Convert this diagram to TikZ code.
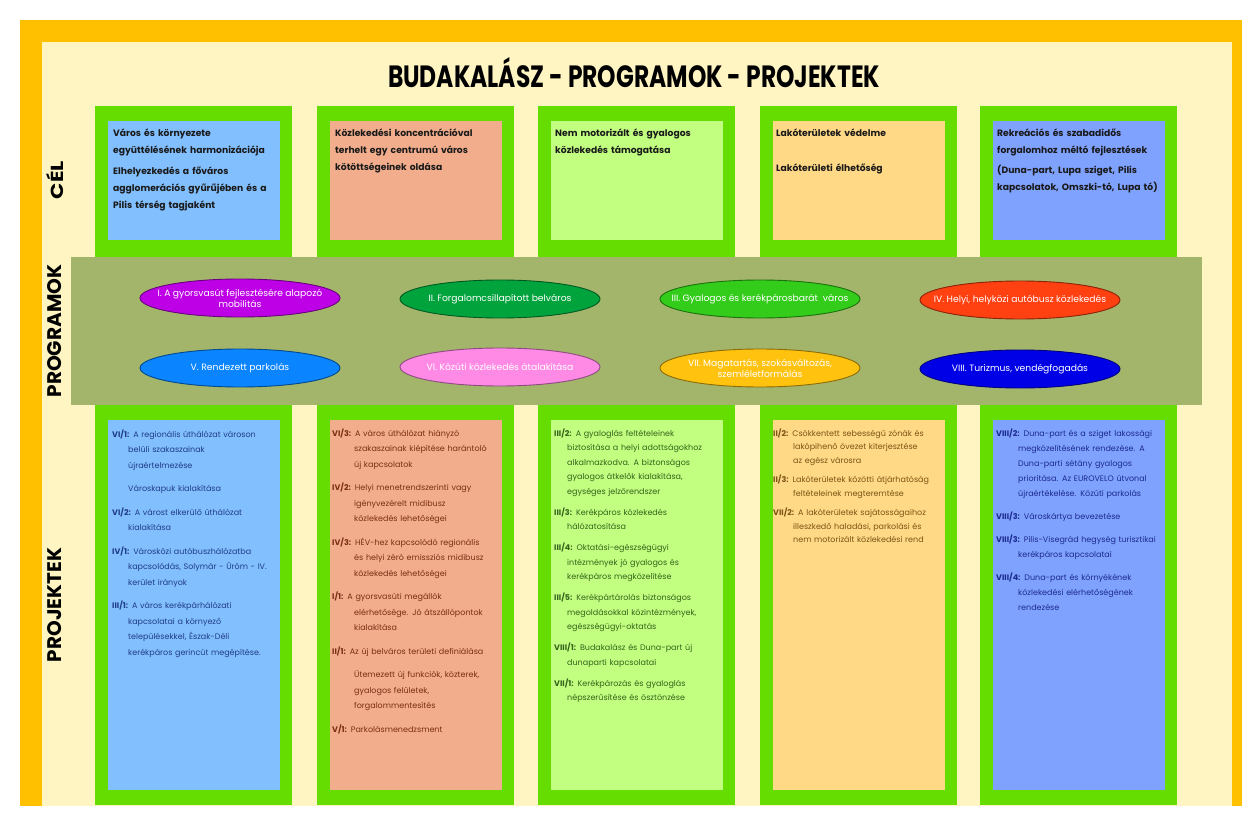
\documentclass[tikz,border=0pt]{standalone}
\usepackage{fontspec}
\setmainfont{Poppins}
\usetikzlibrary{shapes.geometric}
\definecolor{orng}{HTML}{FFC000}
\definecolor{ltyel}{HTML}{FFF5C2}
\definecolor{grn}{HTML}{66DD00}
\definecolor{bandc}{HTML}{A3B56B}
\definecolor{cA}{HTML}{82BFFF}
\definecolor{cB}{HTML}{F2AE8C}
\definecolor{cC}{HTML}{C2FF80}
\definecolor{cD}{HTML}{FFD986}
\definecolor{cE}{HTML}{80A2FF}
\definecolor{tA}{HTML}{1F3C88}
\definecolor{tB}{HTML}{7A2E14}
\definecolor{tC}{HTML}{35621A}
\definecolor{tD}{HTML}{7A5514}
\definecolor{tE}{HTML}{1B2A8F}
\definecolor{pI}{HTML}{BE00E6}
\definecolor{pII}{HTML}{00A33C}
\definecolor{pIII}{HTML}{33CC1A}
\definecolor{pIV}{HTML}{FF4011}
\definecolor{pV}{HTML}{0A84FF}
\definecolor{pVI}{HTML}{FF8AE6}
\definecolor{pVII}{HTML}{FFC20E}
\definecolor{pVIII}{HTML}{0000E6}
\newlength\pjind
\newcommand\nl{\hfil\break}
\newcommand\pjitem[2]{\hangindent=\pjind\hangafter=1\textbf{#1} #2\par}
\newcommand\pjcont[1]{\hangindent=\pjind\hangafter=0 #1\par}
\tikzset{
  gbox/.style={fill=grn, draw=none, inner sep=0pt, minimum width=197pt, anchor=north west},
  ibox/.style={fill=#1, draw=none, inner sep=0pt, minimum width=172pt, anchor=north west},
  prog/.style={ellipse, draw=#1!55!black, line width=0.9pt, fill=#1, minimum width=200pt,
    minimum height=38pt, inner sep=0pt},
  progtxt/.style={inner sep=0pt, text=white, font=\fontsize{9.2}{11}\selectfont, align=center},
  celtext/.style={anchor=base west, inner sep=0pt, text width=172pt, align=left,
    text=black!90, font=\bfseries\fontsize{9.2}{17}\selectfont},
  projtext/.style={anchor=base west, inner sep=0pt, text width=180pt, align=left,
    text=#1, font=\fontsize{8}{15.5}\selectfont},
  rowlab/.style={rotate=90, inner sep=0pt, font=\bfseries, text=black}
}
\begin{document}
\begin{tikzpicture}[x=1pt,y=-1pt]
\useasboundingbox (0,0) rectangle (1242,834);
\fill[white] (0,0) rectangle (1242,834);
\fill[orng] (20,20) rectangle (1242,806);
\fill[ltyel] (42,42) rectangle (1232,806);

\node[anchor=base, inner sep=0pt] (title) at (634,88)
  {\resizebox{492pt}{30pt}{\bfseries BUDAKALÁSZ - PROGRAMOK - PROJEKTEK}};

\node[rowlab] (lcel) at (55,180) {\resizebox{38pt}{17pt}{CÉL}};
\node[rowlab] (lprog) at (55,331) {\resizebox{133pt}{14pt}{PROGRAMOK}};
\node[rowlab] (lproj) at (55,605) {\resizebox{114pt}{14pt}{PROJEKTEK}};

% green frames
\foreach \x/\n in {95/1,317/2,538/3,760/4,980/5}{
  \node[gbox, minimum height=151pt] (gt\n) at (\x,106) {};
  \node[gbox, minimum height=400pt] (gb\n) at (\x,405) {};
}
% programme band
\fill[bandc] (71,257) rectangle (1202,405);

% inner boxes
\foreach \x/\n/\c in {95/1/cA,317/2/cB,538/3/cC,760/4/cD,980/5/cE}{
  \node[ibox=\c, minimum height=119pt] (it\n) at (\x+13,121) {};
  \node[ibox=\c, minimum height=370pt] (ib\n) at (\x+13,420) {};
}

% CEL texts
\node[celtext] (c1) at (113,137) {\setlength\parskip{4pt}Város és környezete\nl együttélésének harmonizációja\par Elhelyezkedés a főváros\nl agglomerációs gyűrűjében és a\nl Pilis térség tagjaként};
\node[celtext] (c2) at (335,137) {Közlekedési koncentrációval\nl terhelt egy centrumú város\nl kötöttségeinek oldása};
\node[celtext] (c3) at (555,137) {Nem motorizált és gyalogos\nl közlekedés támogatása};
\node[celtext] (c4) at (776,137) {\setlength\parskip{18pt}Lakóterületek védelme\par Lakóterületi élhetőség};
\node[celtext] (c5) at (997,137) {\setlength\parskip{3pt}Rekreációs és szabadidős\nl forgalomhoz méltó fejlesztések\par (Duna-part, Lupa sziget, Pilis\nl kapcsolatok, Omszki-tó, Lupa tó)};

% programmes
\node[prog=pI] (p1) at (240,298) {};
\node[prog=pII] (p2) at (500,299) {};
\node[prog=pIII] (p3) at (760,299) {};
\node[prog=pIV] (p4) at (1020,300) {};
\node[prog=pV] (p5) at (240,368) {};
\node[prog=pVI] (p6) at (500,367) {};
\node[prog=pVII] (p7) at (760,368) {};
\node[prog=pVIII] (p8) at (1020,369) {};
\node[progtxt] (p1t) at (p1.center) {I. A gyorsvasút fejlesztésére alapozó\\ mobilitás};
\node[progtxt] (p2t) at (p2.center) {II. Forgalomcsillapított belváros};
\node[progtxt] (p3t) at (p3.center) {III. Gyalogos és kerékpárosbarát\ \ város};
\node[progtxt] (p4t) at (p4.center) {IV. Helyi, helyközi autóbusz közlekedés};
\node[progtxt] (p5t) at (p5.center) {V. Rendezett parkolás};
\node[progtxt] (p6t) at (p6.center) {VI. Közúti közlekedés átalakítása};
\node[progtxt] (p7t) at (p7.center) {VII. Magatartás, szokásváltozás,\\ szemléletformálás};
\node[progtxt] (p8t) at (p8.center) {VIII. Turizmus, vendégfogadás};

% projects
\node[projtext=tA] (j1) at (112,437) {\setlength\pjind{16pt}\setlength\parskip{8pt}%
\pjitem{VI/1:}{A regionális úthálózat városon\nl belüli szakaszainak\nl újraértelmezése}%
\pjcont{Városkapuk kialakítása}%
\pjitem{VI/2:}{A várost elkerülő úthálózat\nl kialakítása}%
\pjitem{IV/1:}{Városközi autóbuszhálózatba\nl kapcsolódás, Solymár - Üröm - IV.\nl kerület irányok}%
\pjitem{III/1:}{A város kerékpárhálózati\nl kapcsolatai a környező\nl településekkel, Észak-Déli\nl kerékpáros gerincút megépítése.}};

\node[projtext=tB] (j2) at (332,436) {\setlength\pjind{22pt}\setlength\parskip{8pt}%
\pjitem{VI/3:}{A város úthálózat hiányzó\nl szakaszainak kiépítése harántoló\nl új kapcsolatok}%
\pjitem{IV/2:}{Helyi menetrendszerinti vagy\nl igényvezérelt midibusz\nl közlekedés lehetőségei}%
\pjitem{IV/3:}{HÉV-hez kapcsolódó regionális\nl és helyi zéró emissziós midibusz\nl közlekedés lehetőségei}%
\pjitem{I/1:}{A gyorsvasúti megállók\nl elérhetősége. Jó átszállópontok\nl kialakítása}%
\pjitem{II/1:}{Az új belváros területi definiálása}%
\pjcont{Ütemezett új funkciók, közterek,\nl gyalogos felületek,\nl forgalommentesítés}%
\pjitem{V/1:}{Parkolásmenedzsment}};

\node[projtext=tC] (j3) at (554,436) {\setlength\pjind{13pt}\setlength\parskip{6.5pt}\fontsize{8}{14.5}\selectfont
\pjitem{III/2:}{A gyaloglás feltételeinek\nl biztosítása a helyi adottságokhoz\nl alkalmazkodva. A biztonságos\nl gyalogos átkelők kialakítása,\nl egységes jelzőrendszer}%
\pjitem{III/3:}{Kerékpáros közlekedés\nl hálózatosítása}%
\pjitem{III/4:}{Oktatási-egészségügyi\nl intézmények jó gyalogos és\nl kerékpáros megközelítése}%
\pjitem{III/5:}{Kerékpártárolás biztonságos\nl megoldásokkal közintézmények,\nl egészségügyi-oktatás}%
\pjitem{VIII/1:}{Budakalász és Duna-part új\nl dunaparti kapcsolatai}%
\pjitem{VII/1:}{Kerékpározás és gyaloglás\nl népszerűsítése és ösztönzése}};

\node[projtext=tD] (j4) at (773,436) {\setlength\pjind{20pt}\setlength\parskip{6pt}\fontsize{8}{13.5}\selectfont
\pjitem{II/2:}{Csökkentett sebességű zónák és\nl lakópihenő övezet kiterjesztése\nl az egész városra}%
\pjitem{II/3:}{Lakóterületek közötti átjárhatóság\nl feltételeinek megteremtése}%
\pjitem{VII/2:}{A lakóterületek sajátosságaihoz\nl illeszkedő haladási, parkolási és\nl nem motorizált közlekedési rend}};

\node[projtext=tE] (j5) at (996,436) {\setlength\pjind{22pt}\setlength\parskip{8pt}\fontsize{8}{15}\selectfont
\pjitem{VIII/2:}{Duna-part és a sziget lakossági\nl megközelítésének rendezése. A\nl Duna-parti sétány gyalogos\nl prioritása. Az EUROVELO útvonal\nl újraértékelése. Közúti parkolás}%
\pjitem{VIII/3:}{Városkártya bevezetése}%
\pjitem{VIII/3:}{Pilis-Visegrád hegység turisztikai\nl kerékpáros kapcsolatai}%
\pjitem{VIII/4:}{Duna-part és környékének\nl közlekedési elérhetőségének\nl rendezése}};
\end{tikzpicture}
\end{document}
